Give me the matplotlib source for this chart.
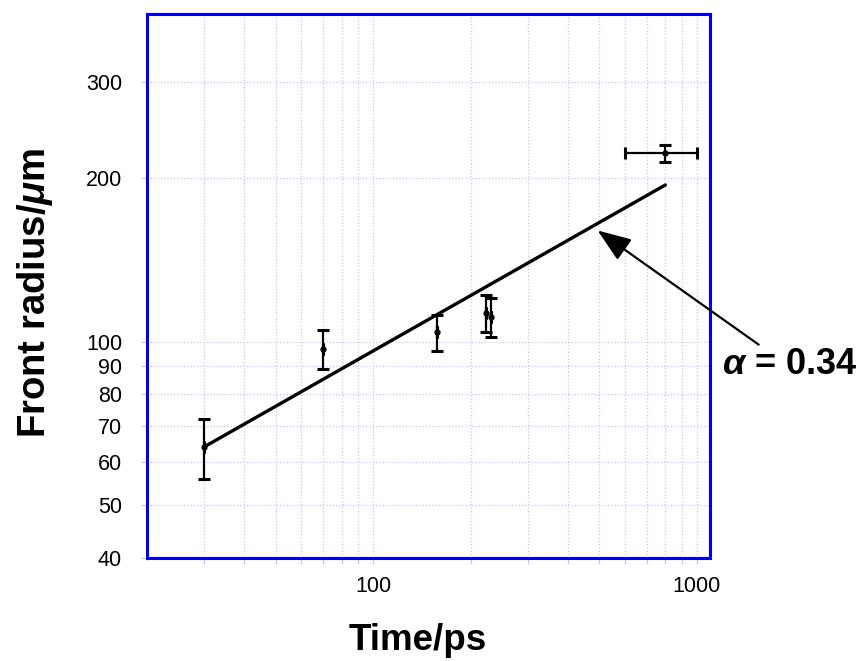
import matplotlib
matplotlib.use("Agg")
from matplotlib import pyplot as plt
from matplotlib.ticker import FixedLocator, NullFormatter, FixedFormatter

plt.rcParams['font.family'] = ['Liberation Sans', 'DejaVu Sans']
plt.rcParams['mathtext.fontset'] = 'custom'
plt.rcParams['mathtext.it'] = 'Liberation Sans:italic:bold'
plt.rcParams['mathtext.rm'] = 'Liberation Sans:bold'

# measured front radius vs time
time_ps = [30, 70, 157, 224, 231, 800]
radius_um = [64, 97, 104, 113, 111, 222]
radius_err = [8, 8, 8, 9, 9, 8]
time_err = [0, 0, 0, 0, 0, 200]

# power-law fit (alpha = 0.34)
fit_t = [30, 800]
fit_r = [64, 194]

y_ticks = [40, 50, 60, 70, 80, 90, 100, 200, 300]
x_ticks = [100, 1000]
x_minor = [30, 40, 50, 60, 70, 80, 90, 200, 300, 400, 500, 600, 700, 800, 900]

blue = '#0000ee'
grid_c = '#c4c4ff'

fig = plt.figure(figsize=(8.67, 6.61), dpi=100)
ax = fig.add_axes([0.1696, 0.1558, 0.6494, 0.823])

ax.set_xscale('log')
ax.set_yscale('log')
ax.set_xlim(20, 1100)
ax.set_ylim(40, 400)

ax.plot(fit_t, fit_r, color='black', lw=2.4, solid_capstyle='round', zorder=3)
ax.errorbar(time_ps, radius_um, yerr=radius_err, xerr=time_err, fmt='o', ms=3.5,
            color='black', ecolor='black', elinewidth=1.6, capsize=4.5,
            capthick=2.2, zorder=4)

ax.xaxis.set_major_locator(FixedLocator(x_ticks))
ax.xaxis.set_major_formatter(FixedFormatter([str(v) for v in x_ticks]))
ax.xaxis.set_minor_locator(FixedLocator(x_minor))
ax.xaxis.set_minor_formatter(NullFormatter())
ax.yaxis.set_major_locator(FixedLocator(y_ticks))
ax.yaxis.set_major_formatter(FixedFormatter([str(v) for v in y_ticks]))
ax.yaxis.set_minor_locator(FixedLocator([]))

ax.grid(True, which='both', color=grid_c, ls=':', lw=0.9)
ax.set_axisbelow(True)
ax.tick_params(which='both', direction='out', length=4, width=0.8, color=grid_c,
               labelsize=15.5, pad=9)
ax.tick_params(axis='y', pad=14)

for s in ax.spines.values():
    s.set_color(blue)
    s.set_linewidth(2.2)

ax.set_xlabel('Time/ps', fontsize=26.5, fontweight='bold', labelpad=19)
ax.xaxis.label.set_x(0.48)
ax.set_ylabel(r'Front radius/$\mathit{\mu}$m', fontsize=27.5, fontweight='bold', labelpad=22)
ax.yaxis.label.set_y(0.487)

ax.annotate(r'$\mathit{\alpha}$ = 0.34', xy=(494, 160), xycoords='data',
            xytext=(1.021, 0.355), textcoords='axes fraction',
            fontsize=26, fontweight='bold', ha='left', va='center',
            arrowprops=dict(arrowstyle='-|>,head_length=0.8,head_width=0.3',
                            color='black', lw=1.6, shrinkA=0, shrinkB=0,
                            relpos=(0.3, 1.0)),
            annotation_clip=False)

fig.savefig('out.png', dpi=100)
